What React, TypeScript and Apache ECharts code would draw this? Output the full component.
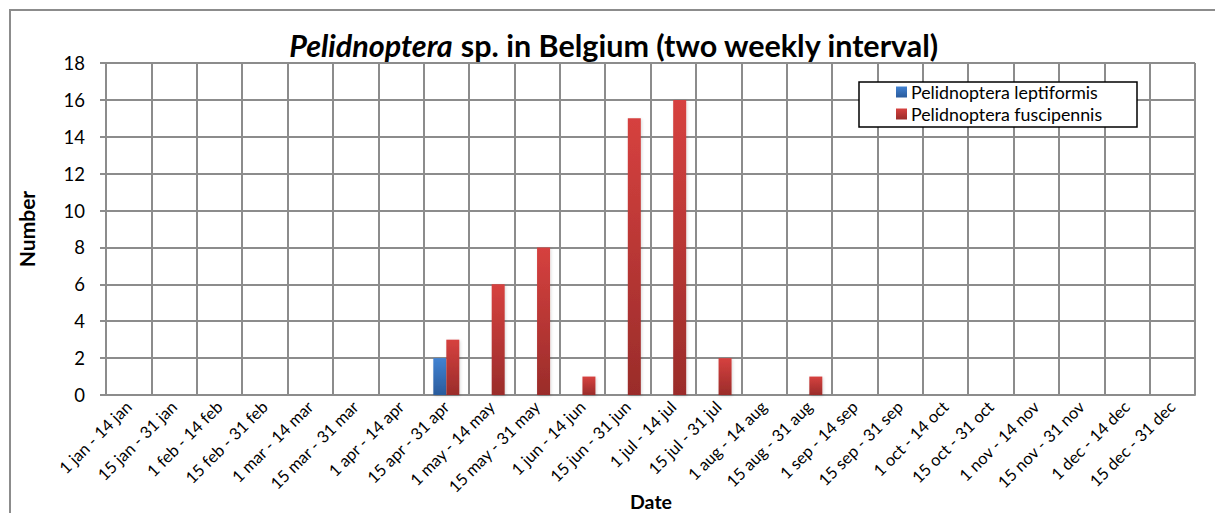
import React, { useEffect, useRef } from "react";
import * as echarts from "echarts";

const categories = [
  "1 jan - 14 jan", "15 jan - 31 jan", "1 feb - 14 feb", "15 feb - 31 feb",
  "1 mar - 14 mar", "15 mar - 31 mar", "1 apr - 14 apr", "15 apr - 31 apr",
  "1 may - 14 may", "15 may - 31 may", "1 jun - 14 jun", "15 jun - 31 jun",
  "1 jul - 14 jul", "15 jul - 31 jul", "1 aug - 14 aug", "15 aug - 31 aug",
  "1 sep - 14 sep", "15 sep - 31 sep", "1 oct - 14 oct", "15 oct - 31 oct",
  "1 nov - 14 nov", "15 nov - 31 nov", "1 dec - 14 dec", "15 dec - 31 dec",
];

const leptiformis = [null, null, null, null, null, null, null, 2, null, null, null, null, null, null, null, null, null, null, null, null, null, null, null, null];
const fuscipennis = [null, null, null, null, null, null, null, 3, 6, 8, 1, 15, 16, 2, null, 1, null, null, null, null, null, null, null, null];

const FONT = "Lato, 'Open Sans', sans-serif";
const GRID_COLOR = "#8c8c8c";

export default function App() {
  const ref = useRef<HTMLDivElement>(null);
  useEffect(() => {
    if (!ref.current) return;
    const chart = echarts.init(ref.current, undefined, { renderer: "svg" });
    const red = new echarts.graphic.LinearGradient(0, 0, 0, 1, [
      { offset: 0, color: "#d6413f" },
      { offset: 1, color: "#9a2c2a" },
    ]);
    const blue = new echarts.graphic.LinearGradient(0, 0, 0, 1, [
      { offset: 0, color: "#4182d2" },
      { offset: 1, color: "#2a5b9c" },
    ]);
    chart.setOption({
      animation: false,
      backgroundColor: "#ffffff",
      textStyle: { fontFamily: FONT },
      grid: { left: 106, top: 63, width: 1089, height: 332, containLabel: false, outerBoundsMode: "none" },
      graphic: [
        {
          type: "rect",
          shape: { x: 10, y: 10, width: 1400, height: 800 },
          style: { fill: "none", stroke: GRID_COLOR, lineWidth: 2 },
          silent: true,
          z: 0,
        },
        {
          type: "text",
          x: 614,
          y: 45,
          style: {
            text: "{i|Pelidnoptera} sp. in Belgium (two weekly interval)",
            align: "center",
            verticalAlign: "middle",
            fontFamily: FONT,
            fontSize: 30.5,
            fontWeight: "bold",
            fill: "#000",
            rich: {
              i: { fontStyle: "italic", fontWeight: "bold", fontSize: 30.5, fontFamily: FONT, fill: "#000" },
            },
          },
          z: 10,
        },
        {
          type: "text",
          x: 651,
          y: 501,
          style: {
            text: "Date",
            align: "center",
            verticalAlign: "middle",
            fontFamily: FONT,
            fontSize: 19.5,
            fontWeight: "bold",
            fill: "#000",
          },
          z: 10,
        },
        {
          type: "rect",
          shape: { x: 859, y: 82, width: 278, height: 45 },
          style: { fill: "#ffffff", stroke: "#000000", lineWidth: 1.5 },
          z: 20,
        },
      ],
      legend: {
        orient: "vertical",
        left: 896,
        top: 83,
        itemWidth: 11,
        itemHeight: 11,
        itemGap: 4,
        padding: 0,
        z: 30,
        icon: "rect",
        textStyle: { fontFamily: FONT, fontSize: 17.8, color: "#000", padding: [0, 0, 0, -1] },
        data: ["Pelidnoptera leptiformis", "Pelidnoptera fuscipennis"],
      },
      xAxis: {
        type: "category",
        data: categories,
        boundaryGap: true,
        axisLine: { show: true, lineStyle: { color: GRID_COLOR, width: 2 } },
        axisTick: { show: false },
        splitLine: { show: true, lineStyle: { color: GRID_COLOR, width: 2 } },
        axisLabel: {
          rotate: 45,
          interval: 0,
          margin: 9,
          fontFamily: FONT,
          fontSize: 16.5,
          color: "#000",
        },
      },
      yAxis: {
        type: "value",
        min: 0,
        max: 18,
        interval: 2,
        name: "Number",
        nameLocation: "middle",
        nameGap: 69,
        nameTextStyle: { fontFamily: FONT, fontSize: 21, fontWeight: "bold", color: "#000" },
        axisLine: { show: true, lineStyle: { color: GRID_COLOR, width: 2 } },
        axisTick: { show: true, length: 6, lineStyle: { color: GRID_COLOR, width: 2 } },
        splitLine: { show: true, lineStyle: { color: GRID_COLOR, width: 2 } },
        axisLabel: { fontFamily: FONT, fontSize: 18.5, color: "#000", margin: 21 },
      },
      series: [
        {
          name: "Pelidnoptera leptiformis",
          type: "bar",
          data: leptiformis,
          barWidth: 13,
          barGap: "0%",
          itemStyle: { color: blue, shadowColor: "rgba(0,0,0,0.15)", shadowBlur: 3, shadowOffsetX: 1, shadowOffsetY: 1 },
        },
        {
          name: "Pelidnoptera fuscipennis",
          type: "bar",
          data: fuscipennis,
          barWidth: 13,
          barGap: "0%",
          itemStyle: { color: red, shadowColor: "rgba(0,0,0,0.15)", shadowBlur: 3, shadowOffsetX: 1, shadowOffsetY: 1 },
        },
      ],
    });
    return () => chart.dispose();
  }, []);
  return (
    <div
      ref={ref}
      style={{ position: "fixed", left: 0, top: 0, width: 1215, height: 513, background: "#fff" }}
    />
  );
}
